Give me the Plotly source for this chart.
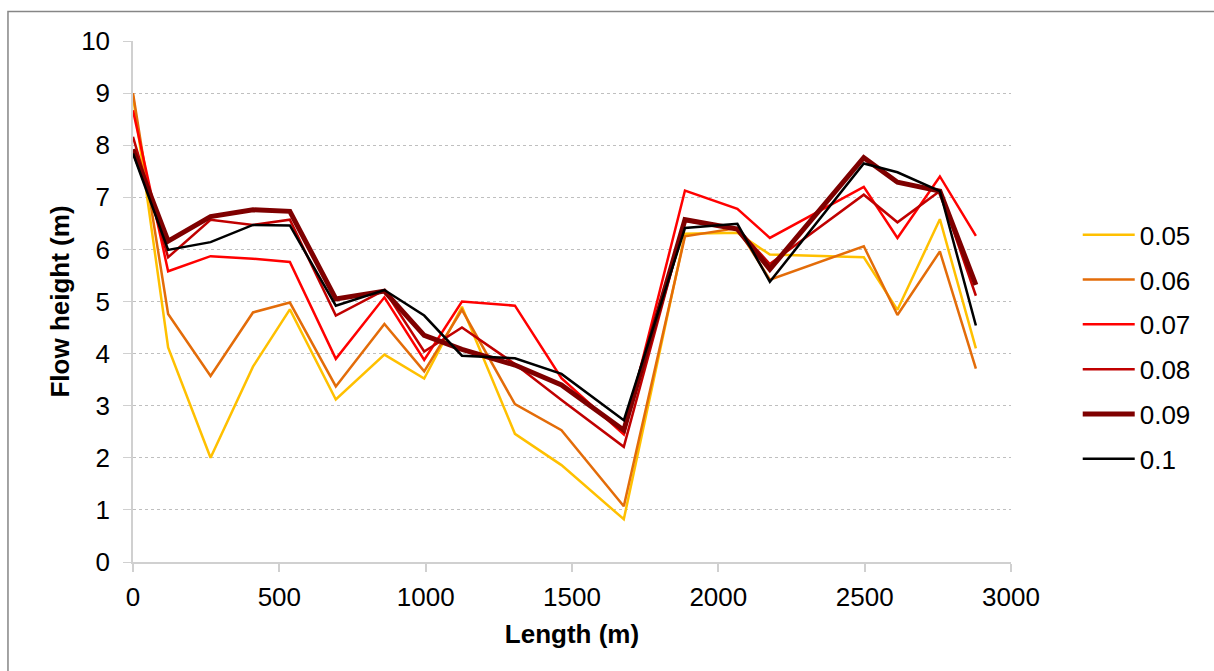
import plotly.graph_objects as go

length_m = [0, 120, 265, 410, 536, 693, 859, 995, 1124, 1305, 1464, 1677, 1886, 2065, 2176, 2497, 2612, 2757, 2880]

series_names = ["0.05", "0.06", "0.07", "0.08", "0.09", "0.1"]

h_005 = [8.95, 4.12, 2.00, 3.75, 4.85, 3.12, 3.98, 3.52, 4.90, 2.46, 1.86, 0.82, 6.30, 6.32, 5.90, 5.85, 4.84, 6.58, 4.10]
h_006 = [9.00, 4.76, 3.57, 4.79, 4.98, 3.37, 4.57, 3.66, 4.84, 3.03, 2.53, 1.07, 6.25, 6.41, 5.42, 6.06, 4.74, 5.96, 3.71]
h_007 = [8.67, 5.58, 5.87, 5.82, 5.76, 3.90, 5.08, 3.88, 5.00, 4.92, 3.53, 2.45, 7.13, 6.78, 6.22, 7.20, 6.22, 7.40, 6.26]
h_008 = [8.16, 5.85, 6.57, 6.47, 6.57, 4.73, 5.22, 4.04, 4.50, 3.80, 3.11, 2.21, 6.55, 6.40, 5.72, 7.05, 6.52, 7.12, 5.11]
h_009 = [7.92, 6.16, 6.63, 6.76, 6.73, 5.05, 5.20, 4.35, 4.08, 3.78, 3.40, 2.53, 6.57, 6.39, 5.62, 7.76, 7.29, 7.12, 5.32]
h_010 = [7.84, 5.99, 6.14, 6.47, 6.46, 4.92, 5.22, 4.73, 3.96, 3.91, 3.61, 2.72, 6.41, 6.49, 5.38, 7.65, 7.48, 7.12, 4.54]

series_values = [h_005, h_006, h_007, h_008, h_009, h_010]
colors = ["#FFC000", "#E36C09", "#FF0000", "#C00000", "#7F0000", "#000000"]
widths = [2.5, 2.5, 2.5, 2.5, 5, 2.5]

x_ticks = [0, 500, 1000, 1500, 2000, 2500, 3000]
y_ticks = [0, 1, 2, 3, 4, 5, 6, 7, 8, 9, 10]

FONT = "Liberation Sans, Arial, sans-serif"
FS = 26

fig = go.Figure()
for name, vals, col, w in zip(series_names, series_values, colors, widths):
    fig.add_trace(go.Scatter(
        x=length_m, y=vals, mode="lines", name=name,
        legendgroup=name,
        line=dict(color=col, width=w),
    ))

fig.update_layout(
    width=1214, height=671,
    margin=dict(l=133, r=203, t=41, b=109),
    paper_bgcolor="white", plot_bgcolor="white",
    font=dict(family=FONT, size=FS, color="black"),
    showlegend=True,
    legend=dict(
        x=1.076, xanchor="left", y=0.413, yanchor="middle",
        font=dict(size=FS, family=FONT),
        tracegroupgap=8,
        itemwidth=52,
        bgcolor="rgba(0,0,0,0)",
    ),
    xaxis=dict(
        range=[0, 3000], tickvals=x_ticks,
        showgrid=False, zeroline=False,
        showline=True, linecolor="#D0D0D0", linewidth=1.5,
        ticks="outside", ticklen=8, tickcolor="#D0D0D0", tickwidth=1.5,
        ticklabelstandoff=3,
        tickfont=dict(size=FS, family=FONT),
        title=dict(text="<b>Length (m)</b>", font=dict(size=FS, family=FONT), standoff=14),
    ),
    yaxis=dict(
        range=[0, 10], tickvals=y_ticks,
        showgrid=True, gridcolor="#BFBFBF", griddash="dot", gridwidth=1,
        zeroline=False,
        showline=True, linecolor="#D0D0D0", linewidth=1.5,
        ticks="outside", ticklen=8, tickcolor="#D0D0D0", tickwidth=1,
        ticklabelstandoff=8,
        tickfont=dict(size=FS, family=FONT),
        title=dict(text="<b>Flow height (m)</b>", font=dict(size=FS, family=FONT), standoff=4),
    ),
    shapes=[dict(
        type="rect", xref="paper", yref="paper",
        x0=-0.1424, x1=1.24, y0=-0.22, y1=1.0566,
        line=dict(color="#868686", width=1.5),
        fillcolor="rgba(0,0,0,0)", layer="below",
    )],
)

fig.write_html("out.html")
